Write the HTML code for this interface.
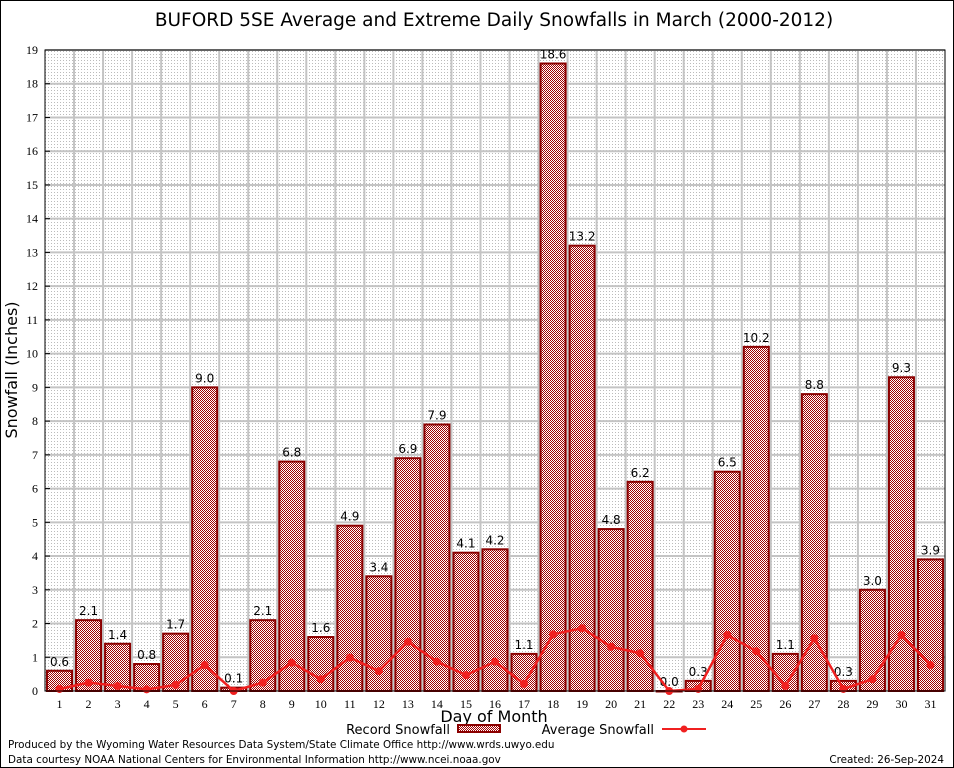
<!DOCTYPE html>
<html><head><meta charset="utf-8"><style>
body{margin:0;background:#fff}
svg{display:block;font-family:"DejaVu Sans","Liberation Sans",sans-serif}
</style></head><body>
<svg id="chart" width="954" height="768" viewBox="0 0 954 768">
<defs>
<pattern id="dots" width="3" height="3" patternUnits="userSpaceOnUse"><rect x="0" y="0" width="1" height="1" fill="#bbbbbb"/></pattern>
<pattern id="check" width="2" height="2" patternUnits="userSpaceOnUse"><rect width="2" height="2" fill="#fff"/><rect x="0" y="0" width="1" height="1" fill="#a00000"/><rect x="1" y="1" width="1" height="1" fill="#a00000"/></pattern>
</defs>
<rect x="0.5" y="0.5" width="953" height="767" fill="#fff" stroke="#000"/>
<text x="494" y="26" font-size="18.5" text-anchor="middle">BUFORD 5SE Average and Extreme Daily Snowfalls in March (2000-2012)</text>
<rect x="45" y="50" width="900" height="641" fill="url(#dots)"/>
<g id="grid"></g>
<g id="bars"></g>
<g id="avg"></g>
<rect x="45" y="50" width="900" height="641" fill="none" stroke="#000"/>
<g id="axes"></g>
<text transform="translate(17,370) rotate(-90)" font-size="16" text-anchor="middle">Snowfall (Inches)</text>
<text x="494" y="722" font-size="16" text-anchor="middle">Day of Month</text>
<g>
<text x="450" y="734" font-size="13" text-anchor="end">Record Snowfall</text>
<rect x="458" y="725" width="42" height="7" fill="url(#check)" stroke="#8b0000" stroke-width="2"/>
<text x="654" y="734" font-size="13" text-anchor="end">Average Snowfall</text>
<line x1="662" y1="729" x2="706" y2="729" stroke="#f02020" stroke-width="2"/>
<circle cx="684" cy="729" r="3.5" fill="#f02020"/>
</g>
<text x="8" y="748" font-size="10.4">Produced by the Wyoming Water Resources Data System/State Climate Office http://www.wrds.uwyo.edu</text>
<text x="8" y="763" font-size="10.4">Data courtesy NOAA National Centers for Environmental Information http://www.ncei.noaa.gov</text>
<text x="944" y="763" font-size="10.4" text-anchor="end">Created: 26-Sep-2024</text>
</svg>
<script>
const days=[1,2,3,4,5,6,7,8,9,10,11,12,13,14,15,16,17,18,19,20,21,22,23,24,25,26,27,28,29,30,31];
const recordSnow=[0.6,2.1,1.4,0.8,1.7,9.0,0.1,2.1,6.8,1.6,4.9,3.4,6.9,7.9,4.1,4.2,1.1,18.6,13.2,4.8,6.2,0.0,0.3,6.5,10.2,1.1,8.8,0.3,3.0,9.3,3.9];
const avgSnow=[0.06,0.25,0.15,0.05,0.18,0.77,0.0,0.25,0.84,0.35,0.99,0.59,1.46,0.87,0.47,0.87,0.21,1.68,1.86,1.31,1.12,0.0,0.06,1.66,1.18,0.15,1.56,0.06,0.35,1.66,0.77];
const yTicks=[0,1,2,3,4,5,6,7,8,9,10,11,12,13,14,15,16,17,18,19];
const NS='http://www.w3.org/2000/svg';
const X0=45,X1=945,Y0=691,Y1=50,YMAX=19;
const bw=(X1-X0)/days.length;
const xc=d=>X0+(d-0.5)*bw;
const ys=v=>Y0-(v/YMAX)*(Y0-Y1);
function mk(tag,attrs,parent){const e=document.createElementNS(NS,tag);for(const k in attrs)e.setAttribute(k,attrs[k]);parent.appendChild(e);return e;}
const grid=document.getElementById('grid'),bars=document.getElementById('bars'),avg=document.getElementById('avg'),axes=document.getElementById('axes');
yTicks.forEach(t=>{
  const y=ys(t);
  if(t>0){const l=mk('line',{x1:X0,x2:X1,y1:y,y2:y,stroke:'#c4c4c4','stroke-width':2},grid);
  
  }
  const tk=mk('line',{x1:X0,x2:X0+5,y1:y,y2:y,stroke:'#000'},axes);
  
  
  const tx=mk('text',{x:38,y:y+4,'font-size':12,'text-anchor':'end','font-family':'Liberation Serif, serif'},axes);
  tx.textContent=t;
  
  
});
days.forEach((d,i)=>{
  if(i>0){const gx=X0+i*bw;const l=mk('line',{x1:gx,x2:gx,y1:Y1,y2:Y0,stroke:'#c4c4c4','stroke-width':2},grid);
  
  }
  const v=recordSnow[i];
  const top=ys(v);
  const r=mk('rect',{x:xc(d)-12.5,y:top,width:25,height:Math.max(Y0-top,0.5),fill:'url(#check)',stroke:'#8b0000','stroke-width':2},bars);
  
  
  const lb=mk('text',{x:xc(d),y:top-5,'font-size':12,'text-anchor':'middle'},bars);
  lb.textContent=v.toFixed(1);
  
  
  const tx=mk('text',{x:xc(d),y:708,'font-size':12,'text-anchor':'middle','font-family':'Liberation Serif, serif'},axes);
  tx.textContent=d;
  
  
});
const pts=days.map((d,i)=>xc(d)+','+ys(avgSnow[i])).join(' ');
const pl=mk('polyline',{points:pts,fill:'none',stroke:'#f02020','stroke-width':2.5},avg);


days.forEach((d,i)=>{
  const c=mk('circle',{cx:xc(d),cy:ys(avgSnow[i]),r:4,fill:'#f02020'},avg);
  
  
});
</script>
</body></html>
